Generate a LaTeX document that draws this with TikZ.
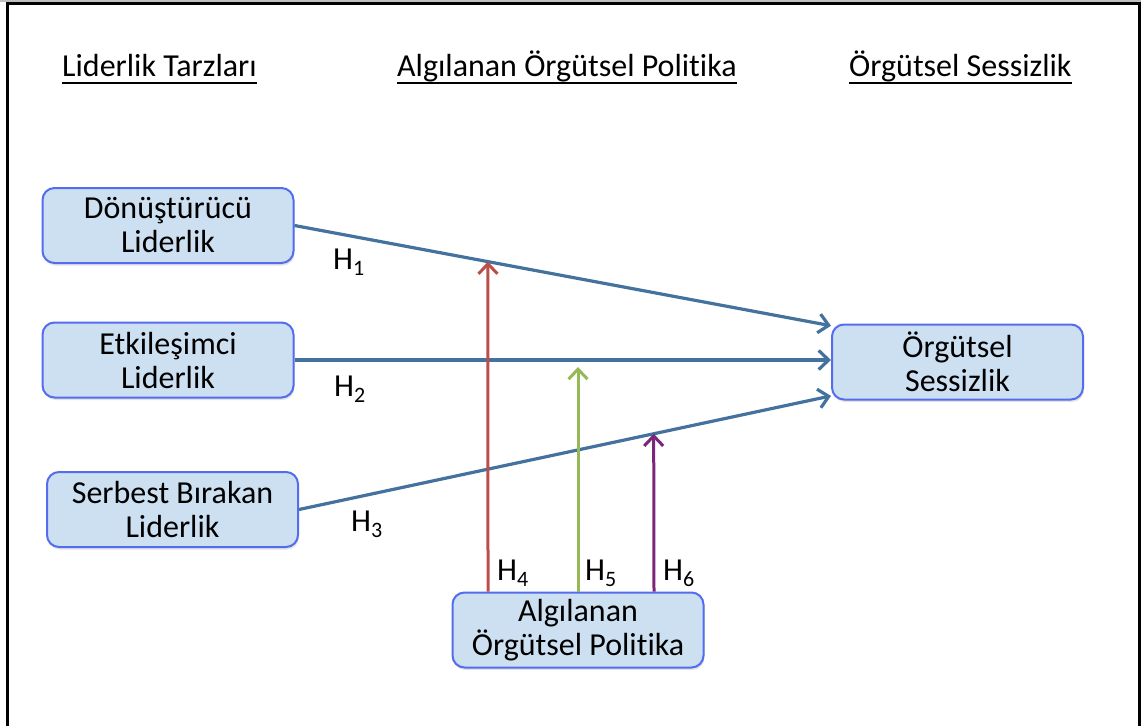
\documentclass[tikz,border=0pt]{standalone}
\usepackage{fontspec}
\setmainfont{Carlito}[RawFeature=-liga]
\usetikzlibrary{arrows.meta,shadows,calc}
\definecolor{boxfill}{RGB}{205,224,242}
\definecolor{boxline}{RGB}{84,108,238}
\definecolor{linkblue}{RGB}{68,114,158}
\definecolor{modred}{RGB}{188,78,74}
\definecolor{modgreen}{RGB}{150,184,86}
\definecolor{modpurple}{RGB}{122,38,122}
% hypothesis label with a lowered index
\newcommand\hyp[1]{H\raisebox{-0.42ex}{\fontsize{22}{22}\selectfont #1}}

\begin{document}
\begin{tikzpicture}[x=1pt,y=-1pt,
  every node/.style={font=\fontsize{32}{34}\selectfont},
  varbox/.style={draw=boxline, line width=2pt, fill=boxfill, rounded corners=12pt,
    minimum width=251pt, minimum height=75pt, align=center, inner sep=0pt,
    drop shadow={opacity=0.22, shadow xshift=1pt, shadow yshift=-2.5pt}},
  heading/.style={inner sep=0pt, anchor=base west},
  hlabel/.style={inner sep=0pt, anchor=base west},
  effect/.style={draw=linkblue, line width=3.2pt, -{Straight Barb[length=10pt,width=19pt]}},
  moderator/.style={line width=3pt, -{Straight Barb[length=10pt,width=19pt]}}
]
\useasboundingbox (0,0) rectangle (1141,726);

% frame
\fill[black!25] (0,0) rectangle (1141,2);
\draw[line width=3pt] (7,726) -- (7,3.5) -- (1139.5,3.5) -- (1139.5,726);

% column headings
\node[heading] (t1) at (62,76) {Liderlik Tarzları};
\node[heading] (t2) at (397,76) {Algılanan Örgütsel Politika};
\node[heading] (t3) at (849,76) {Örgütsel Sessizlik};
\foreach \t in {t1,t2,t3}
  \draw[line width=2pt] ([yshift=-6.5pt]\t.base west) -- ([yshift=-6.5pt]\t.base east);

% variables
\node[varbox] (d1) at (168,225.5) {Dönüştürücü\\Liderlik};
\node[varbox] (e1) at (168,360) {Etkileşimci\\Liderlik};
\node[varbox] (s1) at (172.5,509.5) {Serbest Bırakan\\Liderlik};
\node[varbox] (os) at (957.5,362) {Örgütsel\\Sessizlik};
\node[varbox] (ap) at (578,630) {Algılanan\\Örgütsel Politika};

% direct effects
\draw[effect] (d1.east) -- (os.164);
\draw[effect] (e1.east) -- (e1.east -| os.west);
\draw[effect] (s1.east) -- (os.195);

% moderating effects
\coordinate (m1) at ($(d1.east)!0.3606!(os.164)$);
\coordinate (m2) at ($(ap.north |- e1.east)+(0,7)$);
\coordinate (m3) at ($(s1.east)!0.6667!(os.195)$);
\draw[moderator, draw=modred] ([xshift=-90pt]ap.north) -- (m1);
\draw[moderator, draw=modgreen] (ap.north) -- (m2);
\draw[moderator, draw=modpurple] ([xshift=76pt]ap.north) -- (m3);

% hypothesis labels
\node[hlabel] (h1) at (333,269) {\hyp{1}};
\node[hlabel] (h2) at (334,396) {\hyp{2}};
\node[hlabel] (h3) at (351,531) {\hyp{3}};
\node[hlabel] (h4) at (497,580) {\hyp{4}};
\node[hlabel] (h5) at (585,580) {\hyp{5}};
\node[hlabel] (h6) at (663,580) {\hyp{6}};
\end{tikzpicture}
\end{document}
